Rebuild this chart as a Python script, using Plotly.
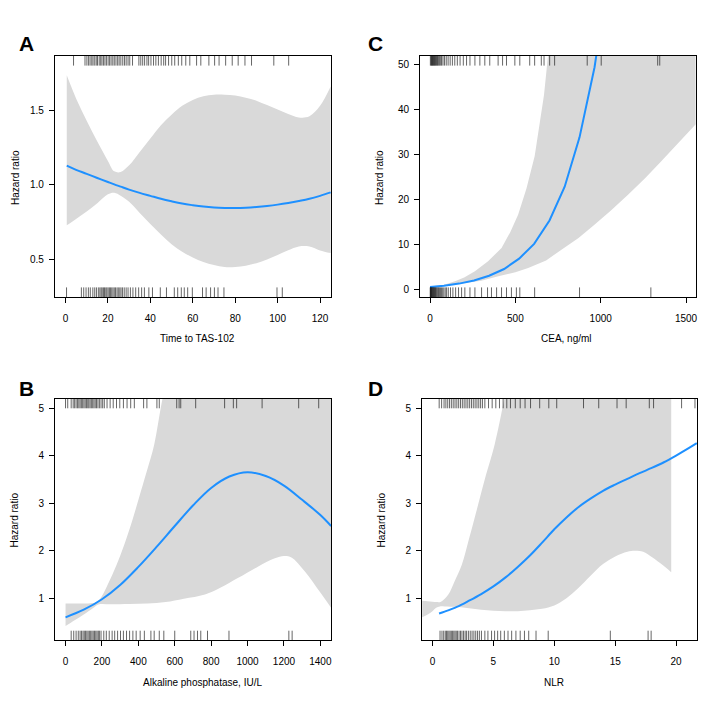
import plotly.graph_objects as go

# ---- panel A: time to TAS-102 ----
a_x = [0.6, 5, 10, 15, 20, 23, 26, 30, 35, 40, 45, 50, 55, 60, 65, 70, 75, 80, 85, 90, 95, 100, 105, 110, 115, 120, 125]
a_hr = [1.128, 1.10, 1.073, 1.045, 1.018, 1.002, 0.987, 0.967, 0.945, 0.925, 0.905, 0.888, 0.873, 0.862, 0.853,
        0.847, 0.844, 0.843, 0.845, 0.850, 0.857, 0.866, 0.877, 0.890, 0.905, 0.925, 0.948]
a_up = [1.735, 1.58, 1.43, 1.29, 1.16, 1.09, 1.085, 1.13, 1.22, 1.31, 1.40, 1.47, 1.53, 1.57, 1.595, 1.605, 1.605,
        1.60, 1.585, 1.565, 1.535, 1.505, 1.475, 1.452, 1.46, 1.53, 1.66]
a_lo = [0.727, 0.77, 0.82, 0.875, 0.935, 0.945, 0.925, 0.885, 0.81, 0.735, 0.665, 0.60, 0.55, 0.51, 0.48, 0.46,
        0.447, 0.447, 0.455, 0.472, 0.497, 0.528, 0.56, 0.585, 0.585, 0.558, 0.54]
a_rug_top = [3.8, 9.2, 10.1, 10.9, 11.6, 12.4, 13.0, 13.8, 14.5, 15.1, 15.9, 16.6, 17.2, 17.9, 18.6, 19.3, 20.1,
             20.8, 21.5, 22.3, 23.0, 23.8, 24.6, 25.3, 26.1, 27.0, 27.8, 28.6, 29.5, 30.3, 31.6, 34.6, 35.5, 36.4,
             37.3, 38.4, 39.2, 40.3, 41.5, 42.6, 43.8, 45.1, 46.3, 47.2, 48.6, 50.1, 51.5, 53.2, 54.8, 56.7, 58.6,
             61.8, 63.8, 67.6, 70.3, 72.4, 75.5, 78.6, 81.4, 84.6, 87.7, 98.2, 105.2]
a_rug_bot = [0.5, 7.5, 8.6, 9.7, 10.8, 11.7, 12.9, 13.8, 14.6, 15.5, 16.2, 16.8, 17.3, 17.9, 18.4, 19.0, 19.5,
             20.1, 20.7, 21.2, 21.8, 22.4, 23.0, 23.6, 24.3, 24.9, 25.6, 26.2, 26.9, 27.7, 28.6, 29.5, 30.6, 31.8,
             33.1, 34.5, 35.9, 37.2, 39.3, 41.0, 44.7, 47.6, 51.3, 52.9, 54.6, 56.0, 57.6, 59.8, 64.6, 66.3, 68.4,
             70.2, 71.9, 74.7, 99.7, 102.2]

# ---- panel C: CEA ----
c_x = [0, 82, 170, 258, 346, 434, 522, 610, 700, 789, 876, 964, 1052]
c_hr = [0.62, 0.88, 1.35, 2.05, 3.1, 4.6, 6.9, 10.2, 15.4, 22.9, 33.9, 49.5, 72.0]
c_up_x = [0, 82, 146, 200, 263, 340, 419, 470, 516, 565, 613, 640, 668, 691, 710, 1557]
c_up = [0.7, 1.1, 1.9, 2.7, 4.1, 6.3, 9.3, 12.8, 16.7, 22.5, 29.7, 36.5, 43.4, 52.0, 60.0, 60.0]
c_lo_x = [0, 100, 200, 300, 400, 500, 575, 680, 770, 870, 965, 1060, 1160, 1260, 1355, 1450, 1557]
c_lo = [0.5, 0.95, 1.4, 2.0, 3.0, 3.9, 4.8, 6.5, 8.9, 11.5, 14.5, 17.6, 21.1, 24.8, 28.6, 32.4, 36.8]
c_rug_top = [2, 6, 9, 12, 15, 18, 21, 25, 28, 31, 35, 39, 43, 47, 52, 57, 63, 68, 76, 85, 95, 106, 118, 131,
             145, 160, 176, 195, 214, 234, 263, 292, 321, 350, 399, 425, 448, 497, 526, 584, 613, 652, 668,
             701, 730, 921, 1003, 1334, 1346]
c_rug_bot = [1, 3, 5, 8, 10, 13, 16, 19, 22, 25, 28, 32, 36, 40, 45, 50, 55, 61, 67, 74, 81, 89, 97, 107, 120,
             134, 150, 167, 185, 204, 234, 263, 302, 337, 360, 390, 419, 448, 477, 506, 526, 613, 876, 1294]

# ---- panel B: alkaline phosphatase ----
b_x = [0, 100, 200, 300, 400, 500, 600, 700, 800, 900, 1000, 1100, 1200, 1300, 1400, 1459]
b_hr = [0.6, 0.76, 0.98, 1.28, 1.66, 2.08, 2.52, 2.95, 3.32, 3.56, 3.65, 3.57, 3.37, 3.07, 2.75, 2.52]
b_up_x = [0, 50, 100, 150, 175, 200, 232, 280, 323, 370, 414, 450, 487, 533, 560, 800, 1100, 1459]
b_up = [0.89, 0.89, 0.89, 0.9, 0.93, 1.05, 1.29, 1.7, 2.13, 2.68, 3.25, 3.72, 4.23, 5.2, 5.6, 6.0, 6.0, 6.0]
b_lo_x = [0, 50, 100, 150, 180, 250, 350, 450, 550, 650, 766, 850, 949, 1059, 1150, 1200, 1241, 1314, 1400, 1459]
b_lo = [0.42, 0.54, 0.66, 0.79, 0.87, 0.875, 0.88, 0.89, 0.92, 0.99, 1.08, 1.22, 1.43, 1.67, 1.84, 1.89, 1.86,
        1.57, 1.12, 0.8]
b_rug_top = [0, 12, 31, 42, 50, 58, 66, 73, 80, 87, 94, 101, 108, 115, 122, 128, 135, 142, 149, 156, 163, 170,
             178, 186, 195, 204, 213, 228, 245, 262, 280, 298, 318, 338, 358, 378, 429, 447, 502, 515, 611, 624,
             633, 715, 874, 922, 940, 1080, 1281, 1391]
b_rug_bot = [31, 45, 58, 70, 80, 88, 96, 103, 110, 117, 124, 131, 138, 145, 152, 159, 166, 173, 180, 186, 195,
             210, 224, 240, 256, 270, 286, 302, 318, 335, 352, 370, 388, 410, 433, 469, 487, 515, 540, 600, 688,
             706, 725, 743, 780, 898, 1227, 1245]

# ---- panel D: NLR ----
d_x = [0.54, 1, 2, 3, 4, 5, 6, 7, 8, 9, 10, 11, 12, 13, 14, 15, 16, 17, 18, 19, 20, 21, 21.7]
d_hr = [0.68, 0.72, 0.82, 0.95, 1.09, 1.25, 1.44, 1.66, 1.9, 2.17, 2.45, 2.70, 2.92, 3.10, 3.26, 3.39, 3.51,
        3.63, 3.74, 3.86, 4.0, 4.15, 4.26]
d_up_x = [-0.85, -0.4, 0.0, 0.35, 0.7, 1.3, 1.8, 2.4, 3.0, 3.75, 4.4, 5.1, 5.9, 6.5, 19.6]
d_up = [0.95, 0.94, 0.93, 0.92, 0.93, 1.08, 1.35, 1.7, 2.25, 2.97, 3.6, 4.23, 5.2, 6.0, 6.0]
d_lo_x = [-0.85, -0.4, 0.0, 0.3, 0.6, 1, 2, 3, 4, 5, 6, 7, 8, 9, 10, 11, 12, 13, 14, 15, 16, 16.6, 17.3, 18,
          19, 19.6]
d_lo = [0.6, 0.66, 0.73, 0.8, 0.83, 0.83, 0.82, 0.79, 0.76, 0.74, 0.73, 0.73, 0.75, 0.78, 0.85, 1.0, 1.22, 1.48,
        1.72, 1.88, 1.98, 2.0, 1.98, 1.87, 1.68, 1.55]
d_rug_top = [0.55, 0.75, 0.95, 1.1, 1.25, 1.4, 1.55, 1.7, 1.85, 2.0, 2.15, 2.3, 2.45, 2.6, 2.75, 2.9, 3.05, 3.2,
             3.35, 3.5, 3.65, 3.8, 3.95, 4.1, 4.3, 4.6, 4.9, 5.2, 5.5, 5.8, 6.1, 6.4, 6.8, 7.2, 7.6, 8.05, 8.8,
             9.55, 10.2, 12.4, 13.65, 15.15, 15.9, 17.8, 18.15, 20.45, 21.55]
d_rug_bot = [0.62, 0.78, 0.92, 1.05, 1.15, 1.25, 1.35, 1.45, 1.55, 1.65, 1.75, 1.85, 1.95, 2.05, 2.18, 2.3, 2.42,
             2.55, 2.68, 2.8, 2.95, 3.1, 3.25, 3.4, 3.55, 3.7, 3.85, 4.02, 4.3, 4.55, 4.85, 5.1, 5.35, 5.6, 5.9,
             6.2, 6.5, 6.85, 7.2, 7.55, 7.9, 8.5, 9.5, 14.6, 17.7, 17.95]

W = H = 709
BAND = "#d9d9d9"
LINE = "#1e90ff"
RUG = "rgba(0,0,0,0.6)"
FONT = "Liberation Sans, Arial, sans-serif"

# panel: letter, x title, axis suffix, data, box in pixels (left, top, right, bottom), ranges, ticks
panels = [
    dict(letter="A", xtitle="Time to TAS-102", n="", x=a_x, hr=a_hr, ux=a_x, up=a_up, lx=a_x, lo=a_lo,
         rt=a_rug_top, rb=a_rug_bot, box=(47, 48, 324, 289), xr=[-5, 125.2], yr=[0.245, 1.865],
         yt=[0.5, 1.0, 1.5], yfmt=".1f", xt=[0, 20, 40, 60, 80, 100, 120], shape="spline",
         lpos=(19, 35), xtpos=(190, 331), ytpos=(8, 169)),
    dict(letter="C", xtitle="CEA, ng/ml", n="2", x=c_x, hr=c_hr, ux=c_up_x, up=c_up, lx=c_lo_x, lo=c_lo,
         rt=c_rug_top, rb=c_rug_bot, box=(413.3, 48, 689.7, 289), xr=[-58, 1557], yr=[-1.63, 52.0],
         yt=[0, 10, 20, 30, 40, 50], yfmt="d", xt=[0, 500, 1000, 1500], shape="linear",
         lpos=(369, 35), xtpos=(560, 331), ytpos=(373, 169)),
    dict(letter="B", xtitle="Alkaline phosphatase, IU/L", n="3", x=b_x, hr=b_hr, ux=b_up_x, up=b_up, lx=b_lo_x,
         lo=b_lo, rt=b_rug_top, rb=b_rug_bot, box=(47.3, 390.7, 324, 632.3), xr=[-57, 1459], yr=[0.117, 5.196],
         yt=[1, 2, 3, 4, 5], yfmt="d", xt=[0, 200, 400, 600, 800, 1000, 1200, 1400], shape="spline",
         lpos=(19, 380), xtpos=(195, 674), ytpos=(7, 511.5)),
    dict(letter="D", xtitle="NLR", n="4", x=d_x, hr=d_hr, ux=d_up_x, up=d_up, lx=d_lo_x, lo=d_lo,
         rt=d_rug_top, rb=d_rug_bot, box=(415.3, 390.7, 691, 632.3), xr=[-0.85, 21.72], yr=[0.117, 5.196],
         yt=[1, 2, 3, 4, 5], yfmt="d", xt=[0, 5, 10, 15, 20], shape="spline",
         lpos=(369, 380), xtpos=(548, 674), ytpos=(375, 511.5)),
]

fig = go.Figure()
annotations = []
layout = {}

for p in panels:
    n = p["n"]
    xa, ya = "x" + n, "y" + n
    left, top, right, bottom = p["box"]
    ylo, yhi = p["yr"]
    h_px = bottom - top
    off = 4 * (yhi - ylo) / h_px

    # confidence band: lower edge, then upper edge filled down to it
    fig.add_trace(go.Scatter(
        x=p["lx"], y=p["lo"], mode="lines", line=dict(width=0, shape=p["shape"], color=BAND),
        xaxis=xa, yaxis=ya, hoverinfo="skip", showlegend=False))
    fig.add_trace(go.Scatter(
        x=p["ux"], y=p["up"], mode="lines", line=dict(width=0, shape=p["shape"], color=BAND),
        fill="tonexty", fillcolor=BAND,
        xaxis=xa, yaxis=ya, hoverinfo="skip", showlegend=False))
    # hazard ratio curve
    fig.add_trace(go.Scatter(
        x=p["x"], y=p["hr"], mode="lines", line=dict(color=LINE, width=2, shape=p["shape"]),
        xaxis=xa, yaxis=ya, showlegend=False))
    # rugs
    for vals, yv in ((p["rt"], yhi - off), (p["rb"], ylo + off)):
        fig.add_trace(go.Scatter(
            x=vals, y=[yv] * len(vals), mode="markers",
            marker=dict(symbol="line-ns", size=8, line=dict(width=1, color=RUG)),
            xaxis=xa, yaxis=ya, hoverinfo="skip", showlegend=False))

    axis_common = dict(showline=True, mirror=True, linecolor="black", linewidth=1, ticks="outside",
                       ticklen=5, tickcolor="black", showgrid=False, zeroline=False,
                       tickfont=dict(family=FONT, size=10, color="black"))
    layout["xaxis" + n] = dict(axis_common, domain=[left / W, right / W], range=p["xr"], anchor=ya,
                               tickvals=p["xt"], ticklabelstandoff=7)
    layout["yaxis" + n] = dict(axis_common, domain=[1 - bottom / H, 1 - top / H], range=p["yr"], anchor=xa,
                               tickvals=p["yt"], tickformat=p["yfmt"], ticklabelstandoff=3)

    annotations.append(dict(text="<b>%s</b>" % p["letter"], x=p["lpos"][0] / W, y=1 - p["lpos"][1] / H,
                            xref="paper", yref="paper", showarrow=False, xanchor="center", yanchor="middle",
                            font=dict(family=FONT, size=21, color="black")))
    annotations.append(dict(text=p["xtitle"], x=p["xtpos"][0] / W, y=1 - p["xtpos"][1] / H,
                            xref="paper", yref="paper", showarrow=False, xanchor="center", yanchor="middle",
                            font=dict(family=FONT, size=10, color="black")))
    annotations.append(dict(text="Hazard ratio", x=p["ytpos"][0] / W, y=1 - p["ytpos"][1] / H, textangle=-90,
                            xref="paper", yref="paper", showarrow=False, xanchor="center", yanchor="middle",
                            font=dict(family=FONT, size=10, color="black")))

fig.update_layout(
    width=W, height=H,
    margin=dict(l=0, r=0, t=0, b=0),
    paper_bgcolor="white", plot_bgcolor="white",
    annotations=annotations,
    **layout
)

fig.write_html("out.html")
